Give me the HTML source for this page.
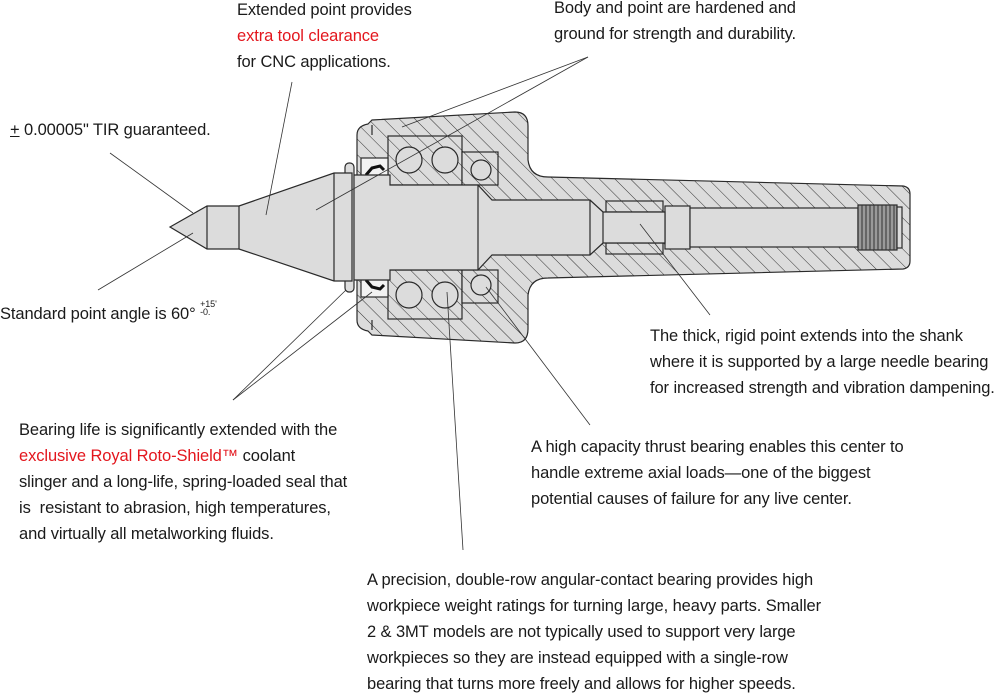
<!DOCTYPE html>
<html><head><meta charset="utf-8">
<style>
html,body{margin:0;padding:0;background:#fff}
body{width:997px;height:693px;position:relative;overflow:hidden;font-family:"Liberation Sans",sans-serif;font-size:16.5px;color:#1a1a1a}
.t{position:absolute;white-space:nowrap;line-height:26px;letter-spacing:-0.1px}
.r{color:#e3161d}
svg{position:absolute;left:0;top:0}
</style></head><body>
<svg width="997" height="693" viewBox="0 0 997 693">
<defs>
<pattern id="h" patternUnits="userSpaceOnUse" width="11" height="11" patternTransform="rotate(-45)">
<rect width="11" height="11" fill="#dcdcdc"/>
<line x1="0" y1="0" x2="0" y2="11" stroke="#333" stroke-width="1"/>
</pattern>
</defs>
<g stroke="#2a2a2a" stroke-width="1.2">
<path fill="url(#h)" d="M357,135 Q357,126 368,124 L372,120 L515,112 Q528,112 528,126 L528,160 Q530,177 548,177 L903,186 Q910,187 910,194 L910,261 Q910,268 903,269 L548,278 Q530,278 528,295 L528,329 Q528,343 515,343 L372,335 L368,331 Q357,329 357,320 Z"/>
<path fill="none" d="M372,125 L372,135 M372,320 L372,330"/>
<rect x="388" y="136" width="74" height="49" fill="url(#h)"/>
<rect x="388" y="270" width="74" height="49" fill="url(#h)"/>
<circle cx="409" cy="160" r="13" fill="#dcdcdc"/>
<circle cx="445" cy="160" r="13" fill="#dcdcdc"/>
<circle cx="409" cy="295" r="13" fill="#dcdcdc"/>
<circle cx="445" cy="295" r="13" fill="#dcdcdc"/>
<rect x="462" y="152" width="36" height="33" fill="url(#h)"/>
<rect x="462" y="270" width="36" height="33" fill="url(#h)"/>
<circle cx="481" cy="170" r="10" fill="#dcdcdc"/>
<circle cx="481" cy="285" r="10" fill="#dcdcdc"/>
<rect x="361" y="158" width="27" height="22" fill="#f2f2f2"/>
<rect x="361" y="275" width="27" height="22" fill="#f2f2f2"/>
<path d="M366,175 L372,168 L380,166 L384,170" fill="none" stroke="#111" stroke-width="3"/>
<path d="M366,280 L372,287 L380,289 L384,285" fill="none" stroke="#111" stroke-width="3"/>
<rect x="665" y="206" width="25" height="43" fill="#dcdcdc"/>
<rect x="690" y="208" width="168" height="39" fill="#dcdcdc"/>
<rect x="858" y="205" width="39" height="45" fill="#9a9a9a"/>
<path stroke="#333" stroke-width="1" d="M862,205V250M866,205V250M870,205V250M874,205V250M878,205V250M882,205V250M886,205V250M890,205V250M894,205V250"/>
<rect x="897" y="207" width="5" height="41" fill="#dcdcdc"/>
<rect x="606" y="201" width="57" height="11" fill="url(#h)"/>
<rect x="606" y="243" width="57" height="11" fill="url(#h)"/>
<path fill="#dcdcdc" d="M352,175 L390,175 L390,185 L478,185 L492,200 L590,200 L603,212 L665,212 L665,243 L603,243 L590,255 L492,255 L478,270 L390,270 L390,280 L352,280 Z"/>
<path fill="none" d="M478,185 L478,270 M590,200 L590,255 M603,212 L603,243"/>
<rect x="345" y="163" width="9" height="129" rx="4" fill="#dcdcdc"/>
<path fill="#dcdcdc" d="M170,227 L207,206 L239,206 L334,173 L352,173 L352,281 L334,281 L239,249 L207,249 Z"/>
<path fill="none" d="M207,206V249 M239,206V249 M334,173V281"/>
</g>
<g stroke="#333" stroke-width="0.8" fill="none">
<line x1="292" y1="82" x2="266" y2="215"/>
<line x1="588" y1="57" x2="402" y2="127"/>
<line x1="588" y1="57" x2="316" y2="210"/>
<line x1="110" y1="153" x2="193" y2="213"/>
<line x1="98" y1="290" x2="193" y2="233"/>
<line x1="233" y1="400" x2="346" y2="290"/>
<line x1="233" y1="400" x2="372" y2="292"/>
<line x1="590" y1="425" x2="486" y2="287"/>
<line x1="463" y1="550" x2="447" y2="292"/>
<line x1="710" y1="315" x2="640" y2="224"/>
</g>
</svg>

<div class="t" style="left:237px;top:-3px">Extended point provides<br><span class="r">extra tool clearance</span><br>for CNC applications.</div>
<div class="t" style="left:554px;top:-5px">Body and point are hardened and<br>ground for strength and durability.</div>
<div class="t" style="left:10px;top:117px"><u>+</u> 0.00005" TIR guaranteed.</div>
<div class="t" style="left:0px;top:300px">Standard point angle is 60° <span style="font-size:9px;display:inline-block;line-height:8px;vertical-align:4px">+15'<br>-0.</span></div>
<div class="t" style="left:650px;top:323px">The thick, rigid point extends into the shank<br>where it is supported by a large needle bearing<br>for increased strength and vibration dampening.</div>
<div class="t" style="left:19px;top:417px">Bearing life is significantly extended with the<br><span class="r">exclusive Royal Roto-Shield™</span> coolant<br>slinger and a long-life, spring-loaded seal that<br>is &nbsp;resistant to abrasion, high temperatures,<br>and virtually all metalworking fluids.</div>
<div class="t" style="left:531px;top:434px">A high capacity thrust bearing enables this center to<br>handle extreme axial loads—one of the biggest<br>potential causes of failure for any live center.</div>
<div class="t" style="left:367px;top:567px">A precision, double-row angular-contact bearing provides high<br>workpiece weight ratings for turning large, heavy parts. Smaller<br>2 &amp; 3MT models are not typically used to support very large<br>workpieces so they are instead equipped with a single-row<br>bearing that turns more freely and allows for higher speeds.</div>
</body></html>
